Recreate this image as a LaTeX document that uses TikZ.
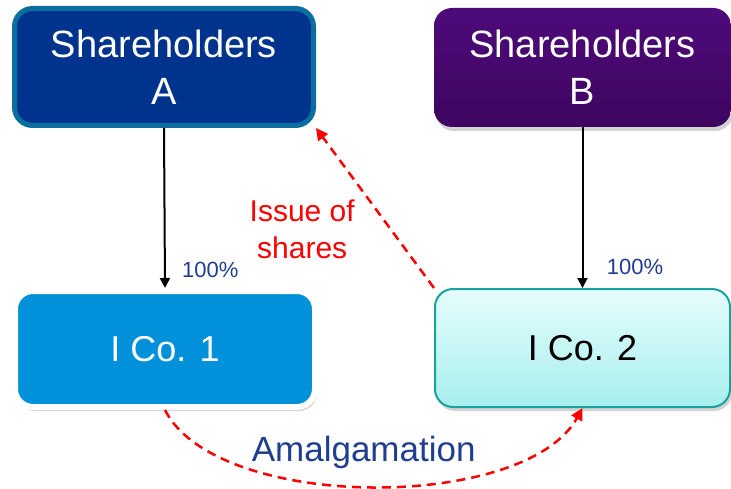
\documentclass[tikz,border=0pt]{standalone}
\usepackage{fontspec}
\setmainfont{Liberation Sans}
\usepackage[HTML]{xcolor}
\usepackage{tikz}
\usetikzlibrary{positioning, arrows.meta, shadows}

\definecolor{kblue}{HTML}{00338D}
\definecolor{kedge}{HTML}{0A6E9E}
\definecolor{kpurpleT}{HTML}{4E0A7A}
\definecolor{kpurpleB}{HTML}{3E0560}
\definecolor{kmid}{HTML}{0091DA}
\definecolor{kcyanT}{HTML}{E6FCFC}
\definecolor{kcyanB}{HTML}{A6EFEE}
\definecolor{kteal}{HTML}{1AA2A0}
\definecolor{klabel}{HTML}{1F3E8F}

\begin{document}
\begin{tikzpicture}[x=1pt, y=1pt, >=Latex, % Setting global styles
    entity/.style={rounded corners=18pt, align=center, inner sep=0pt,
        font=\fontsize{36}{46}\selectfont},
    boxshadow/.style={drop shadow={opacity=0.35, shadow xshift=2pt, shadow yshift=-4pt}},
    owns/.style={->, line width=2pt, -{Triangle[length=10pt, width=10pt]}},
    deal/.style={line width=2.5pt, red, dashed, dash pattern=on 9pt off 6pt,
        -{Triangle[length=12pt, width=12pt]}},
    pct/.style={text=klabel, font=\fontsize{22}{26}\selectfont}]

    \useasboundingbox (0,0) rectangle (731,-489);

    % 1. Define Nodes: shareholders on top, companies below
    \node (shA) [entity, font=\fontsize{38}{47}\selectfont, draw=kedge, line width=5pt,
        fill=kblue, text=white,
        minimum width=299pt, minimum height=117pt] at (164,-67) {Shareholders\\A};
    \node (shB) [entity, font=\fontsize{38}{47}\selectfont, boxshadow, top color=kpurpleT,
        bottom color=kpurpleB, text=white,
        minimum width=297pt, minimum height=119pt] at (582.5,-67.5) {Shareholders\\B};
    \node (co1) [entity, boxshadow, draw=white, line width=6pt, fill=kmid, text=white,
        minimum width=300pt, minimum height=116pt] at (165,-349) {I Co. 1};
    \node (co2) [entity, boxshadow, draw=kteal, line width=2pt, top color=kcyanT,
        bottom color=kcyanB, text=black,
        minimum width=295pt, minimum height=118pt] at (582.5,-348) {I Co. 2};

    % 2. Draw Holdings (shareholders -> companies)
    \draw[owns] (shA.south) -- (co1.north) node[pos=0.89, right=13pt, pct] {100\%};
    \draw[owns] (shB.south) -- (co2.north) node[pos=0.87, right=20pt, pct] {100\%};

    % 3. Draw Issue of shares (I Co. 2 -> Shareholders A)
    \draw[deal] (co2.north west) -- (shA.south east)
        node[pos=0.37, left=31pt, text=red, align=center,
            font=\fontsize{30}{37}\selectfont] {Issue of\\shares};

    % 4. Draw Amalgamation (I Co. 1 -> I Co. 2)
    \draw[deal] (co1.south) .. controls (217,-512) and (525,-512) .. (co2.south)
        node[midway, xshift=-8pt, yshift=34pt, text=klabel,
            font=\fontsize{35}{42}\selectfont] {Amalgamation};
\end{tikzpicture}
\end{document}
